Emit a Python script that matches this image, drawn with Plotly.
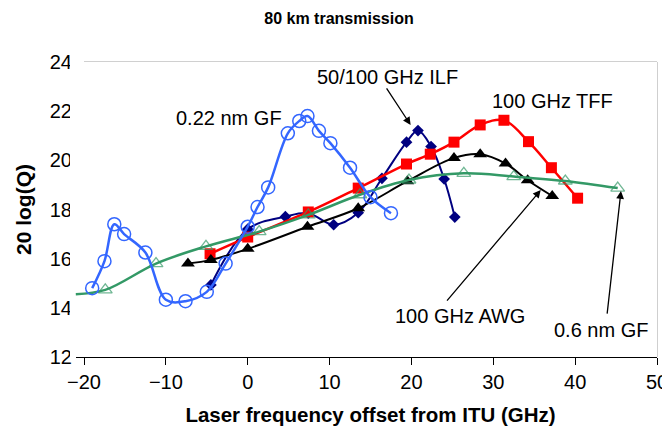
import plotly.graph_objects as go

# ---------------- data ----------------
ilf_x = [-4.5, 0.0, 4.6, 7.4, 10.5, 13.5, 16.4, 19.4, 20.8, 22.4, 24.0, 25.3]
ilf_y = [14.93, 17.2, 17.71, 17.85, 17.38, 17.87, 19.27, 20.74, 21.21, 20.56, 19.24, 17.69]

tff_x = [-4.6, 0.0, 7.4, 13.5, 19.4, 22.3, 25.2, 28.4, 31.3, 34.3, 37.1, 40.3]
tff_y = [16.2, 16.88, 17.9, 18.87, 19.85, 20.25, 20.74, 21.44, 21.63, 20.76, 19.7, 18.46]

awg_x = [-7.3, -4.5, 0.0, 7.3, 13.5, 19.5, 25.2, 28.4, 31.5, 34.2, 37.2]
awg_y = [15.8, 15.95, 16.4, 17.3, 18.05, 19.15, 20.1, 20.25, 19.87, 19.19, 18.55]

gf06_x = [-21.0, -17.4, -11.2, -5.1, 1.4, 7.4, 13.7, 19.7, 26.4, 32.5, 38.8, 45.2]
gf06_y = [14.55, 14.73, 15.8, 16.5, 17.1, 17.78, 18.6, 19.2, 19.47, 19.34, 19.16, 18.87]
gf06_marker_size = [0, 12, 12, 12, 12, 12, 12, 12, 12, 12, 12, 12]

gf022_x = [-19.0, -17.5, -16.3, -15.1, -12.5, -10.0, -7.6, -5.0, -2.7, 0.0, 1.2,
           2.5, 4.9, 6.3, 7.3, 8.7, 10.1, 12.5, 15.0, 17.5]
gf022_y = [14.8, 15.9, 17.4, 17.0, 16.25, 14.33, 14.27, 14.65, 15.8, 17.3, 18.1,
           18.9, 21.1, 21.6, 21.8, 21.2, 20.7, 19.7, 18.5, 17.85]

x_ticks = [-20, -10, 0, 10, 20, 30, 40, 50]
y_ticks = [12, 14, 16, 18, 20, 22, 24]

# ---------------- layout geometry ----------------
# the page body has an 8px default margin, so the figure is offset by 8px
OFF = 8
FONT = "Arial, 'Liberation Sans', sans-serif"
W, H = 670 - OFF, 438 - OFF
ML, MR, MT, MB = 70 - OFF, 13, 62 - OFF, 81
X_MIN, X_MAX = -20, 50
Y_MIN, Y_MAX = 12, 24
AXIS_LEFT_PX = 84 - OFF
plot_w = W - ML - MR
d0 = (AXIS_LEFT_PX - ML) / plot_w
px_per_unit = plot_w * (1 - d0) / (X_MAX - X_MIN)
x2_min = X_MIN - (AXIS_LEFT_PX - ML) / px_per_unit

fig = go.Figure()

def add_series(x, y, color, lw, symbol, size, mline=0, name=""):
    fig.add_trace(go.Scatter(
        x=x, y=y, xaxis="x2", yaxis="y", mode="lines+markers", name=name,
        line=dict(color=color, width=lw, shape="spline", smoothing=1),
        marker=dict(symbol=symbol, size=size, color=color,
                    line=dict(color=color, width=mline)),
        showlegend=False, hoverinfo="skip"))

add_series(ilf_x, ilf_y, "#000080", 2, "diamond", 9, 0, "50/100 GHz ILF")
add_series(tff_x, tff_y, "#ff0000", 2.5, "square", 11, 0, "100 GHz TFF")
add_series(awg_x, awg_y, "#000000", 2, "triangle-up", 12, 0, "100 GHz AWG")
add_series(gf06_x, gf06_y, "#339966", 2.5, "triangle-up-open", gf06_marker_size, 1.3, "0.6 nm GF")
add_series(gf022_x, gf022_y, "#3366ff", 2.5, "circle-open", 13, 1.5, "0.22 nm GF")

annots = []
# text labels
for txt, x, y in [("0.22 nm GF", -2.25, 21.72), ("50/100 GHz ILF", 17.07, 23.39),
                  ("100 GHz TFF", 37.28, 22.41), ("100 GHz AWG", 25.9, 13.67),
                  ("0.6 nm GF", 43.2, 13.1)]:
    annots.append(dict(text=txt, x=x, y=y, xref="x", yref="y", showarrow=False,
                       font=dict(family=FONT, size=20, color="black"),
                       xanchor="center", yanchor="middle"))
# arrows
for x, y, ax, ay in [(19.9, 21.44, -25, -38), (35.8, 18.79, -95, 112), (45.6, 18.75, -14, 124)]:
    annots.append(dict(text="", x=x, y=y, xref="x", yref="y", ax=ax, ay=ay,
                       showarrow=True, arrowhead=2, arrowsize=1.2, arrowwidth=1.3,
                       arrowcolor="black", standoff=0, startstandoff=0))

fig.update_layout(
    width=W, height=H,
    margin=dict(l=ML, r=MR, t=MT, b=MB),
    paper_bgcolor="white", plot_bgcolor="white",
    font=dict(family=FONT, size=20, color="black"),
    title=dict(text="<b>80 km transmission</b>", x=0.5, xanchor="center",
               y=1 - 10 / H, yanchor="middle", yref="container",
               font=dict(family=FONT, size=16, color="black")),
    xaxis=dict(domain=[d0, 1], range=[X_MIN, X_MAX], tickvals=x_ticks,
               ticks="outside", ticklen=7, tickcolor="black", tickwidth=1,
               showline=True, linecolor="black", linewidth=1, showgrid=False,
               zeroline=False, anchor="y", automargin=False,
               title=dict(text="<b>Laser frequency offset from ITU (GHz)</b>",
                          font=dict(family=FONT, size=20.5), standoff=15)),
    xaxis2=dict(domain=[0, 1], range=[x2_min, X_MAX], visible=False, anchor="y"),
    yaxis=dict(range=[Y_MIN, Y_MAX], tickvals=y_ticks, ticks="outside", ticklen=7,
               tickcolor="black", tickwidth=1, showline=True, linecolor="black",
               linewidth=1, showgrid=False, zeroline=False, anchor="x", automargin=False,
               title=dict(text="<b>20 log(Q)</b>", font=dict(family=FONT, size=21),
                          standoff=12)),
    shapes=[dict(type="rect", xref="x domain", yref="y domain", x0=0, x1=1, y0=0, y1=1,
                 line=dict(color="#a0a0a0", width=1), layer="below")],
    annotations=annots,
)

fig.write_html("out.html")
